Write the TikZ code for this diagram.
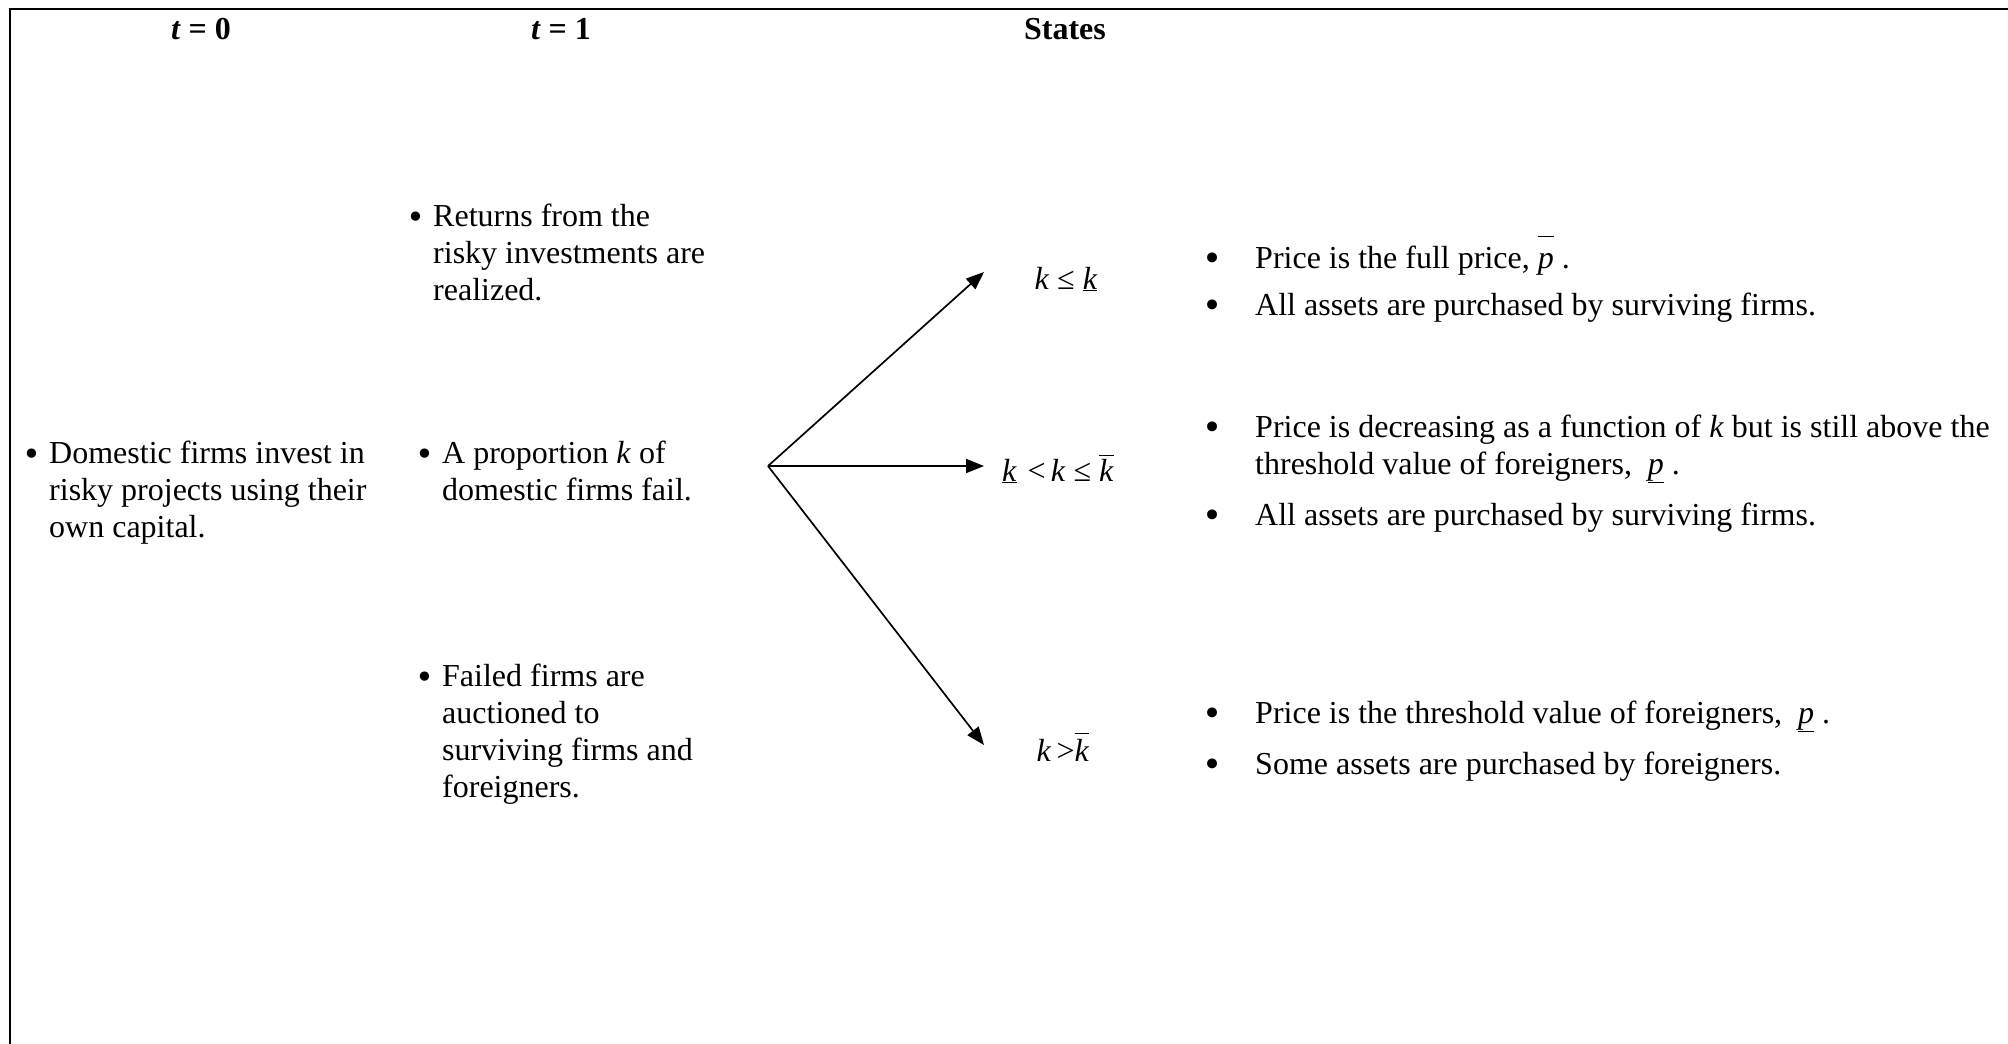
\documentclass[tikz,border=0pt]{standalone}
\usepackage{fontspec}
\setmainfont{Liberation Serif}
\newfontfamily\bulfont{DejaVu Sans}
\usetikzlibrary{arrows.meta}
\newcommand\kk{\textit{k}}
\newcommand\pp{\textit{p}}
\newcommand\hibar[2]{\setbox0\hbox{#2}\rlap{\raisebox{#1}{\rule{\wd0}{1.4pt}}}\box0}
\newcommand\ubar[1]{\underline{#1}}
\newcommand\lbul{{\bulfont\fontsize{32}{37}\selectfont\raisebox{-2pt}{•}}}
\newcommand\rbul{{\bulfont\fontsize{34}{37}\selectfont\raisebox{-2pt}{•}}}
\tikzset{
  txt/.style={inner sep=0pt, anchor=base west, font=\fontsize{32}{37}\selectfont},
  bul/.style={inner sep=0pt, anchor=base east, font=\fontsize{32}{37}\selectfont},
  rb/.style={inner sep=0pt, anchor=base west, font=\fontsize{32}{37}\selectfont},
  hdr/.style={inner sep=0pt, anchor=base, font=\fontsize{32}{37}\selectfont\bfseries},
  state/.style={inner sep=0pt, anchor=base, font=\fontsize{32}{37}\selectfont},
  frame/.style={line width=2pt},
  arr/.style={line width=1.7pt, -{Triangle[length=18pt,width=14pt]}}
}
\begin{document}
\begin{tikzpicture}[x=1pt,y=-1pt]
\useasboundingbox (0,0) rectangle (2008,1044);
\coordinate (fb) at (10,1044);
\coordinate (fc) at (10,9);
\coordinate (fr) at (2008,9);
\draw[frame] (fb) -- (fc) -- (fr);

\node[hdr] (h0) at (201,39) {\textit{t} = 0};
\node[hdr] (h1) at (561,39) {\textit{t} = 1};
\node[hdr] (h2) at (1065,39) {States};

% t = 0 column
\node[txt] (d0) at (49,463) {\begin{tabular}[t]{@{}l@{}}Domestic firms invest in\\risky projects using their\\own capital.\end{tabular}};
\node[bul] (d0b) at ([xshift=-7pt]d0.base west) {\lbul};

% t = 1 column
\node[txt] (r1) at (433,226) {\begin{tabular}[t]{@{}l@{}}Returns from the\\risky investments are\\realized.\end{tabular}};
\node[bul] (r1b) at ([xshift=-7pt]r1.base west) {\lbul};
\node[txt] (a1) at (442,463) {\begin{tabular}[t]{@{}l@{}}A proportion \kk{} of\\domestic firms fail.\end{tabular}};
\node[bul] (a1b) at ([xshift=-7pt]a1.base west) {\lbul};
\node[txt] (f1) at (442,686) {\begin{tabular}[t]{@{}l@{}}Failed firms are\\auctioned to\\surviving firms and\\foreigners.\end{tabular}};
\node[bul] (f1b) at ([xshift=-7pt]f1.base west) {\lbul};

% states
\node[state] (s1) at (1066,289) {\kk\ ≤ \ubar{\kk}};
\node[state] (s2) at (1058,481) {\ubar{\kk}\,\,<\,\kk\ ≤\ \hibar{25pt}{\kk}};
\node[state] (s3) at (1063,761) {\kk\,>\hibar{27pt}{\kk}};

\coordinate (o) at (768,466);
\coordinate (t1) at (984,272);
\coordinate (t2) at (984,466);
\coordinate (t3) at (984,745);
\draw[arr] (o) -- (t1);
\draw[arr] (o) -- (t2);
\draw[arr] (o) -- (t3);

% outcomes
\node[rb] (p1b) at (1202,268) {\rbul};
\node[txt] (p1) at (1255,268) {Price is the full price, \hibar{31pt}{\pp}\ .};
\node[rb] (p2b) at (1202,315) {\rbul};
\node[txt] (p2) at (1255,315) {All assets are purchased by surviving firms.};

\node[rb] (q1b) at (1202,437) {\rbul};
\node[txt] (q1) at (1255,437) {\begin{tabular}[t]{@{}l@{}}Price is decreasing as a function of \kk{} but is still above the\\threshold value of foreigners,\ \ \ubar{\pp}\ .\end{tabular}};
\node[rb] (q2b) at (1202,525) {\rbul};
\node[txt] (q2) at (1255,525) {All assets are purchased by surviving firms.};

\node[rb] (r3b) at (1202,723) {\rbul};
\node[txt] (r3) at (1255,723) {Price is the threshold value of foreigners,\ \ \ubar{\pp}\ .};
\node[rb] (r4b) at (1202,774) {\rbul};
\node[txt] (r4) at (1255,774) {Some assets are purchased by foreigners.};
\end{tikzpicture}
\end{document}
